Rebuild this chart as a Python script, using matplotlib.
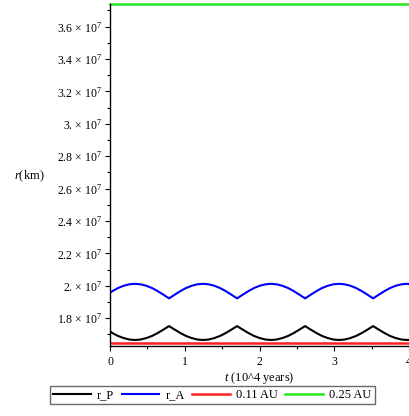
import numpy as np
import matplotlib
matplotlib.use("Agg")
import matplotlib.pyplot as plt
from matplotlib.ticker import FixedLocator, FixedFormatter, MultipleLocator

plt.rcParams['font.family'] = ['Liberation Serif', 'DejaVu Serif']
plt.rcParams['mathtext.fontset'] = 'custom'
plt.rcParams['mathtext.rm'] = 'Liberation Serif'
plt.rcParams['mathtext.it'] = 'Liberation Serif:italic'

# time (10^4 years)
t_years = [0.0, 0.032, 0.107, 0.183, 0.259, 0.335, 0.41, 0.486, 0.562, 0.638, 0.714, 0.79,
           0.866, 0.942, 1.017, 1.093, 1.169, 1.245, 1.32, 1.396, 1.472, 1.548, 1.624, 1.70,
           1.776, 1.852, 1.927, 2.003, 2.079, 2.155, 2.23, 2.306, 2.382, 2.458, 2.534, 2.61,
           2.686, 2.762, 2.837, 2.913, 2.989, 3.065, 3.14, 3.216, 3.292, 3.368, 3.444, 3.52,
           3.596, 3.672, 3.747, 3.823, 3.899, 3.975, 4.0]
# radii in units of 10^7 km
r_A_1e7 = [1.956, 1.967, 1.986, 2.000, 2.009, 2.012, 2.009, 2.000, 1.986, 1.967, 1.945, 1.922,
           1.945, 1.967, 1.986, 2.000, 2.009, 2.012, 2.009, 2.000, 1.986, 1.967, 1.945, 1.922,
           1.945, 1.967, 1.986, 2.000, 2.009, 2.012, 2.009, 2.000, 1.986, 1.967, 1.945, 1.922,
           1.945, 1.967, 1.986, 2.000, 2.009, 2.012, 2.009, 2.000, 1.986, 1.967, 1.945, 1.922,
           1.945, 1.967, 1.986, 2.000, 2.009, 2.012, 2.011]
r_P_1e7 = [1.719, 1.708, 1.690, 1.677, 1.668, 1.665, 1.668, 1.677, 1.690, 1.708, 1.729, 1.751,
           1.729, 1.708, 1.690, 1.677, 1.668, 1.665, 1.668, 1.677, 1.690, 1.708, 1.729, 1.751,
           1.729, 1.708, 1.690, 1.677, 1.668, 1.665, 1.668, 1.677, 1.690, 1.708, 1.729, 1.751,
           1.729, 1.708, 1.690, 1.677, 1.668, 1.665, 1.668, 1.677, 1.690, 1.708, 1.729, 1.751,
           1.729, 1.708, 1.690, 1.677, 1.668, 1.665, 1.666]
t_ref = [0.0, 4.0]
au_011_km = [1.6456e7, 1.6456e7]
au_025_km = [3.74e7, 3.74e7]

ytick_vals = [1.8e7, 2.0e7, 2.2e7, 2.4e7, 2.6e7, 2.8e7, 3.0e7, 3.2e7, 3.4e7, 3.6e7]
ytick_text = ["1.8", "2.", "2.2", "2.4", "2.6", "2.8", "3.", "3.2", "3.4", "3.6"]
ytick_labels = [s + " \u00d7 10$^{7}$" for s in ytick_text]
legend_labels = ["r_P", "r_A", "0.11 AU", "0.25 AU"]

r_A = np.array(r_A_1e7) * 1e7
r_P = np.array(r_P_1e7) * 1e7

fig = plt.figure(figsize=(4.09, 4.16), dpi=100)
ax = fig.add_axes([110/409, 1 - 346/416, 1 - 110/409, (346 - 4)/416])

l1, = ax.plot(t_years, r_P, color='black', lw=1.5)
l2, = ax.plot(t_years, r_A, color='#0000ff', lw=1.5)
l3, = ax.plot(t_ref, au_011_km, color='#ff2020', lw=1.8)
l4, = ax.plot(t_ref, au_025_km, color='#22e622', lw=1.8, clip_on=False)

ax.set_xlim(0, 4)
ax.set_ylim(1.628e7, 3.74e7)

for s in ['top', 'right']:
    ax.spines[s].set_visible(False)
ax.spines['left'].set_linewidth(1.0)
ax.spines['bottom'].set_linewidth(1.0)

ax.xaxis.set_major_locator(MultipleLocator(1))
ax.xaxis.set_minor_locator(MultipleLocator(0.5))
ax.yaxis.set_major_locator(FixedLocator(ytick_vals))
ax.yaxis.set_major_formatter(FixedFormatter(ytick_labels))
ax.yaxis.set_minor_locator(MultipleLocator(0.1e7))
ax.tick_params(which='major', length=3.5, width=0.8, labelsize=8.5, pad=2)
ax.tick_params(which='minor', length=2, width=0.8)
ax.tick_params(axis='x', pad=4)

ax.set_xlabel("$\\it{t}$ (10^4 years)", fontsize=9, labelpad=1)
fig.text(29/409, 1 - 176/416, "$\\it{r}$(km)", fontsize=9, ha='center', va='center')

leg = fig.legend([l1, l2, l3, l4], legend_labels, loc='upper left',
                 bbox_to_anchor=(50/409, 1 - 386/416), ncol=4, fontsize=9,
                 frameon=True, fancybox=False, handlelength=3.0, handletextpad=0.5,
                 columnspacing=0.6, borderpad=0.25, borderaxespad=0)
leg.get_frame().set_edgecolor('#444444')
leg.get_frame().set_linewidth(1.0)

fig.savefig("out.png", dpi=100)
